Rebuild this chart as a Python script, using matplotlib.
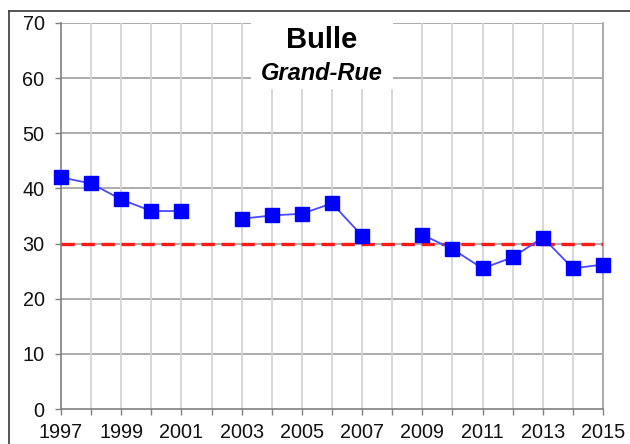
import numpy as np
import matplotlib
matplotlib.use("Agg")
import matplotlib.pyplot as plt
from matplotlib.patches import Rectangle
from matplotlib.lines import Line2D

plt.rcParams['font.family'] = ['Liberation Sans', 'DejaVu Sans']

years = list(range(1997, 2016))
values = [42.0, 40.9, 38.0, 35.9, 35.9, np.nan, 34.5, 35.1, 35.4, 37.3, 31.4,
          np.nan, 31.6, 29.0, 25.5, 27.5, 31.1, 25.5, 26.2]
limit_value = 30
title = "Bulle"
subtitle = "Grand-Rue"
yticks = [0, 10, 20, 30, 40, 50, 60, 70]
xticks_major = list(range(1997, 2016, 2))

fig = plt.figure(figsize=(6.30, 4.44), dpi=100)
ax = fig.add_axes([61/630, 1-409/444, 542/630, 386/444])

ax.set_xlim(1997, 2015)
ax.set_ylim(0, 70)

# grid
for yv in yticks[1:]:
    ax.axhline(yv, color='#a6a6a6', lw=1.3, zorder=1)
for xv in years[1:]:
    ax.axvline(xv, color='#d4d4d4', lw=1.3, zorder=1)

ax.axhline(limit_value, color='#ff1a1a', lw=2.4, dashes=(4, 2), zorder=3)

ax.plot(years, values, color='#4a4aff', lw=1.3, marker='s', markersize=9.5,
        markerfacecolor='#0000ff', markeredgecolor='#0000ff', zorder=4,
        clip_on=False)

ax.spines['top'].set_visible(False)
ax.spines['right'].set_color('#a6a6a6')
ax.spines['right'].set_linewidth(1.3)
ax.spines['left'].set_color('#808080')
ax.spines['bottom'].set_color('#808080')
ax.spines['left'].set_linewidth(1.2)
ax.spines['bottom'].set_linewidth(1.2)

ax.set_yticks(yticks)
ax.set_xticks(xticks_major)
ax.set_xticks(years, minor=True)
ax.tick_params(axis='both', which='both', direction='out', color='#808080',
               labelsize=14.3, labelcolor='#111111', length=4.3, width=1.0)
ax.tick_params(axis='x', pad=6)
ax.tick_params(axis='y', pad=7.5)

# white title box
ax.add_patch(Rectangle(((251-61)/542, (409-89)/386), (393-251)/542, 1 - (409-89)/386 + 0.01,
                       transform=ax.transAxes, facecolor='white', edgecolor='none',
                       zorder=5, clip_on=False))
fig.text(322/630, 1-40/444, title, ha='center', va='center', fontsize=21,
         fontweight='bold', zorder=6)
fig.text(322/630, 1-73/444, subtitle, ha='center', va='center', fontsize=17,
         fontweight='bold', fontstyle='italic', zorder=6)

# outer border
fig.add_artist(Line2D([9/630, 1], [1-11.5/444, 1-11.5/444], color='#3a3a3a', lw=1.2,
                      transform=fig.transFigure))
fig.add_artist(Line2D([9/630, 9/630], [0, 1-11.5/444], color='#3a3a3a', lw=1.2,
                      transform=fig.transFigure))

fig.savefig('out.png', dpi=100)
